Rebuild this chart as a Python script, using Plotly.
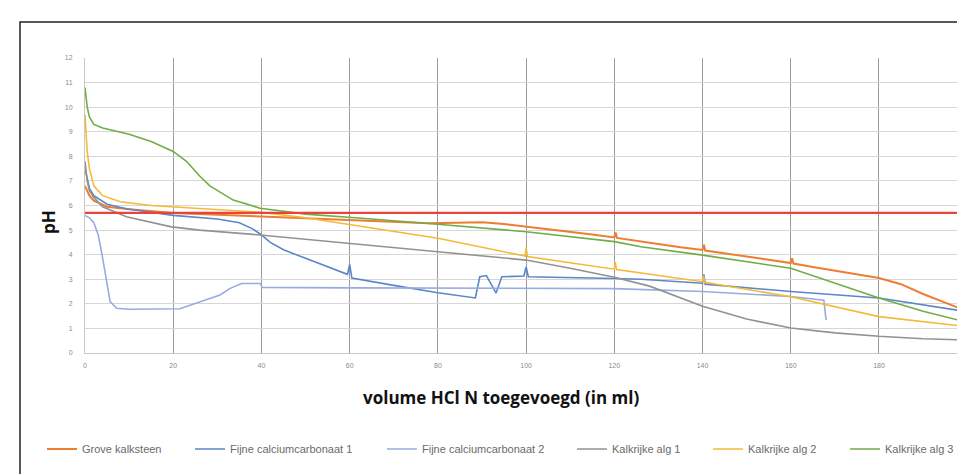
import plotly.graph_objects as go

# ---------------- data ----------------
series_names = ["Grove kalksteen", "Fijne calciumcarbonaat 1", "Fijne calciumcarbonaat 2",
                "Kalkrijke alg 1", "Kalkrijke alg 2", "Kalkrijke alg 3"]
series_colors = ["#ED7D31", "#5B86C8", "#98ABE0", "#929292", "#F5B93A", "#70AD47"]

grove_ml = [0, 1, 2, 5, 10, 20, 40, 60, 78, 84, 90, 95, 100, 105, 110, 115, 120, 120.3, 120.6, 126,
            130, 135, 140, 140.3, 140.6, 145, 150, 155, 160, 160.3, 160.6, 165, 170, 175, 180, 185, 190, 195, 200]
grove_ph = [6.8, 6.4, 6.2, 5.95, 5.85, 5.7, 5.55, 5.4, 5.28, 5.3, 5.32, 5.25, 5.15, 5.05, 4.93, 4.82, 4.7, 4.9, 4.68, 4.53,
            4.42, 4.3, 4.19, 4.4, 4.17, 4.05, 3.92, 3.8, 3.66, 3.85, 3.64, 3.5, 3.36, 3.22, 3.05, 2.8, 2.4, 2.05, 1.7]

fijn1_ml = [0, 1, 2, 5, 9.4, 20, 30, 35, 38, 40, 42, 45, 50, 55, 59.5, 60, 60.5, 70, 76, 80, 88.5, 89.5,
            91, 93.2, 94.5, 99.5, 100, 100.5, 120, 126, 140, 140.3, 140.6, 160, 180, 200]
fijn1_ph = [7.5, 6.7, 6.4, 6.05, 5.87, 5.6, 5.45, 5.3, 5.05, 4.8, 4.5, 4.2, 3.85, 3.5, 3.2, 3.6, 3.05, 2.75, 2.56, 2.45, 2.24, 3.1,
            3.15, 2.44, 3.1, 3.13, 3.5, 3.1, 3.03, 3.0, 2.84, 3.2, 2.8, 2.5, 2.24, 1.68]

fijn2_ml = [0, 1, 2, 3, 3.8, 4.8, 5.7, 7.2, 10, 21.5, 26, 30.6, 32.9, 35.5, 39.7, 40.2, 60, 80, 100, 120, 140, 160, 167.5, 168]
fijn2_ph = [5.6, 5.5, 5.3, 4.8, 4.06, 3.0, 2.09, 1.82, 1.78, 1.8, 2.09, 2.36, 2.63, 2.83, 2.83, 2.67, 2.65, 2.65, 2.65, 2.62, 2.5, 2.3, 2.15, 1.35]

alg1_ml = [0, 0.5, 1, 1.9, 4, 9.4, 19.6, 26, 39.7, 50, 60, 80, 100, 110, 120, 128, 140, 150, 160, 170, 180, 190, 200]
alg1_ph = [7.8, 7.0, 6.6, 6.35, 5.95, 5.54, 5.13, 5.0, 4.8, 4.62, 4.46, 4.12, 3.78, 3.45, 3.08, 2.72, 1.9, 1.38, 1.02, 0.82, 0.68, 0.58, 0.53]

alg2_ml = [0, 0.5, 1, 2, 4, 8, 15, 20, 30, 40, 50, 62, 80, 99.8, 100, 100.3, 120, 120.2, 120.5, 140, 140.2, 140.5, 160, 180, 200]
alg2_ph = [9.7, 8.2, 7.5, 6.8, 6.4, 6.15, 6.0, 5.95, 5.85, 5.72, 5.5, 5.16, 4.67, 3.94, 4.3, 3.92, 3.41, 3.7, 3.4, 2.9, 3.15, 2.88, 2.29, 1.48, 1.07]

alg3_ml = [0, 0.5, 1, 2, 4, 10, 15, 20, 23, 26, 28.3, 33.6, 39.7, 50, 62, 80, 100, 120, 126, 140, 160, 170, 180, 190, 200]
alg3_ph = [10.8, 10.0, 9.6, 9.3, 9.15, 8.9, 8.6, 8.2, 7.8, 7.2, 6.8, 6.22, 5.89, 5.65, 5.49, 5.24, 4.93, 4.53, 4.32, 3.98, 3.45, 2.85, 2.24, 1.7, 1.25]

red_line_ph = 5.7

x_ticks = list(range(0, 201, 20))
y_ticks = list(range(0, 13))

x_title = "volume HCl N toegevoegd (in ml)"
y_title = "pH"

xs = [grove_ml, fijn1_ml, fijn2_ml, alg1_ml, alg2_ml, alg3_ml]
ys = [grove_ph, fijn1_ph, fijn2_ph, alg1_ph, alg2_ph, alg3_ph]
legend_widths = [103, 147, 145, 91, 92, 70]

# page has an 8px body margin: figure is 957x466, plot area at page x 85..965, y 58..353
W, H = 957, 466
ML, MT = 77, 50
PW, PH_ = 880, 295

def px(page_x):
    return (page_x - 85) / PW

def py(page_y):
    return (353 - page_y) / PH_

# ---------------- figure ----------------
fig = go.Figure()
for name, color, x, y, lw in zip(series_names, series_colors, xs, ys, legend_widths):
    fig.add_trace(go.Scatter(x=x, y=y, mode="lines", name=name,
                             line=dict(color=color, width=1.6 if name != "Grove kalksteen" else 2),
                             legendwidth=lw))

fig.add_hline(y=red_line_ph, line=dict(color="#E8443A", width=2.2), layer="above")

# outer chart frame (cut off on right/bottom like the reference)
fig.add_shape(type="rect", xref="paper", yref="paper",
              x0=px(20), x1=1.2, y0=-1.0, y1=py(22),
              line=dict(color="#222222", width=1.5), fillcolor="rgba(0,0,0,0)", layer="below")

fig.update_layout(
    width=W, height=H,
    margin=dict(l=ML, r=0, t=MT, b=H - MT - PH_),
    paper_bgcolor="white", plot_bgcolor="white",
    showlegend=True,
    legend=dict(orientation="h", xref="paper", yref="paper",
                x=px(42), y=py(449), xanchor="left", yanchor="middle",
                font=dict(family="Liberation Sans Narrow, Liberation Sans, Arial", size=11, color="#6a6a6a"),
                bgcolor="rgba(0,0,0,0)"),
    xaxis=dict(range=[0, 199.5], tickvals=x_ticks, ticktext=[str(v) for v in x_ticks],
               showgrid=True, gridcolor="#9c9c9c", gridwidth=1.3,
               showline=True, linecolor="#c8c8c8", linewidth=1, zeroline=False,
               ticks="", ticklabelstandoff=6,
               tickfont=dict(family="Liberation Sans", size=7, color="#8a8a8a")),
    yaxis=dict(range=[0, 12], tickvals=y_ticks, ticktext=[str(v) for v in y_ticks],
               showgrid=True, gridcolor="#d6d6d6", gridwidth=1,
               showline=True, linecolor="#c8c8c8", linewidth=1, zeroline=False,
               ticks="", ticklabelstandoff=10,
               tickfont=dict(family="Liberation Sans", size=7, color="#8a8a8a")),
    annotations=[
        dict(text="<b>" + x_title + "</b>", xref="paper", yref="paper",
             x=px(501), y=py(397), showarrow=False,
             xanchor="center", yanchor="middle",
             font=dict(family="Open Sans, Lato, sans-serif", size=17, color="#111111")),
        dict(text="<b>" + y_title + "</b>", xref="paper", yref="paper",
             x=px(48), y=py(222), showarrow=False, textangle=-90,
             xanchor="center", yanchor="middle",
             font=dict(family="Open Sans, Lato, sans-serif", size=17, color="#111111")),
        dict(text="2", xref="paper", yref="paper", x=px(957), y=py(364),
             showarrow=False, xanchor="left", yanchor="middle",
             font=dict(family="Liberation Sans", size=7, color="#8a8a8a")),
    ],
)

fig.write_html("out.html")
